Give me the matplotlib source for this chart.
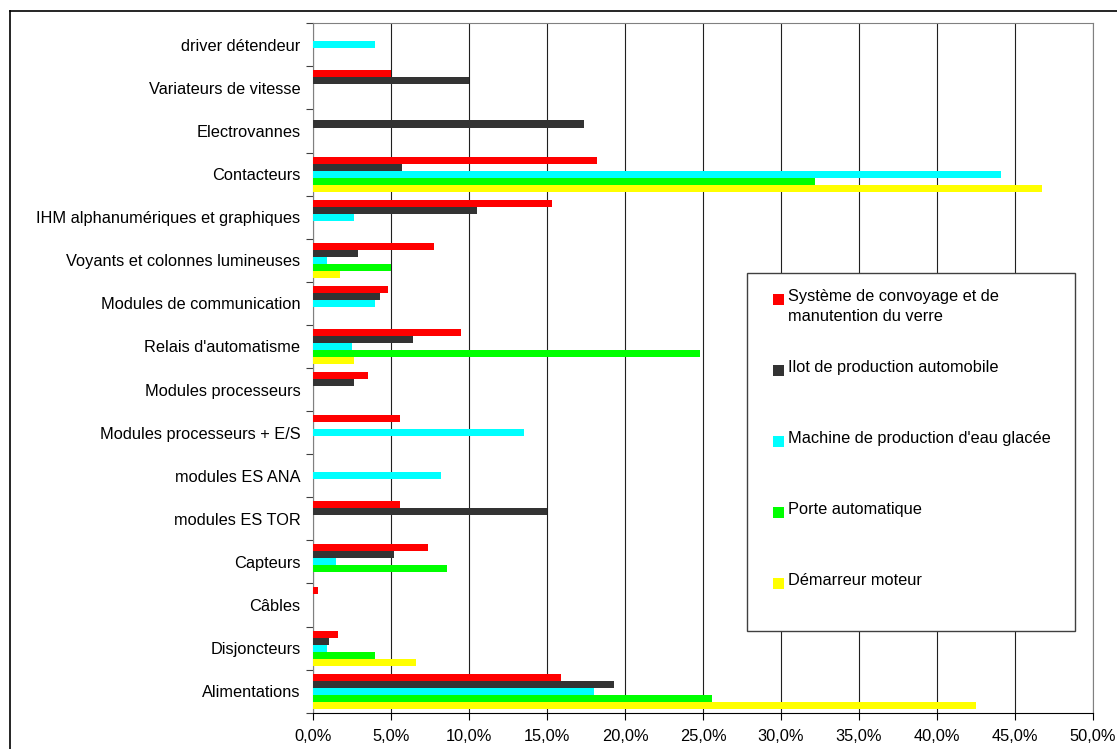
import matplotlib
matplotlib.use('Agg')
from matplotlib import pyplot as plt
from matplotlib.patches import Rectangle
from matplotlib.lines import Line2D
import numpy as np

plt.rcParams['font.family'] = ['Liberation Sans', 'DejaVu Sans']

# catégories, du haut vers le bas
categories = ['driver détendeur', 'Variateurs de vitesse', 'Electrovannes', 'Contacteurs',
              'IHM alphanumériques et graphiques', 'Voyants et colonnes lumineuses',
              'Modules de communication', "Relais d'automatisme", 'Modules processeurs',
              'Modules processeurs + E/S', 'modules ES ANA', 'modules ES TOR',
              'Capteurs', 'Câbles', 'Disjoncteurs', 'Alimentations']

series_names = ['Système de convoyage et de\nmanutention du verre',
                'Ilot de production automobile',
                "Machine de production d'eau glacée",
                'Porte automatique',
                'Démarreur moteur']
colors = ['#FF0000', '#333333', '#00FFFF', '#00FF00', '#FFFF00']

# valeurs en %
convoyage = [0, 5.0, 0, 18.2, 15.3, 7.75, 4.8, 9.5, 3.5, 5.6, 0, 5.6, 7.4, 0.3, 1.6, 15.9]
ilot = [0, 10.0, 17.4, 5.7, 10.5, 2.9, 4.3, 6.4, 2.6, 0, 0, 15.0, 5.2, 0, 1.0, 19.3]
eau_glacee = [4.0, 0, 0, 44.1, 2.6, 0.9, 4.0, 2.5, 0, 13.5, 8.2, 0, 1.5, 0, 0.9, 18.0]
porte = [0, 0, 0, 32.2, 0, 5.0, 0, 24.8, 0, 0, 0, 0, 8.6, 0, 4.0, 25.6]
demarreur = [0, 0, 0, 46.7, 0, 1.7, 0, 2.6, 0, 0, 0, 0, 0, 0, 6.6, 42.5]

series = [convoyage, ilot, eau_glacee, porte, demarreur]

W, H = 1117, 749
fig = plt.figure(figsize=(W / 100, H / 100), dpi=100)
ax = fig.add_axes([313 / W, 1 - 712.7 / H, (1093 - 313) / W, (712.7 - 23.3) / H])

y = np.arange(len(categories))
h = 0.163
for k, (vals, c) in enumerate(zip(series, colors)):
    ax.barh(y + (k - 2) * h, vals, height=h, color=c, zorder=3)

ax.set_xlim(0, 50)
ax.set_ylim(len(categories) - 0.5, -0.5)

# graduations en bordure des catégories (style Excel)
ax.set_yticks(np.arange(len(categories) + 1) - 0.5)
ax.set_yticklabels([])
ax.set_yticks(y, minor=True)
ax.set_yticklabels(categories, minor=True, fontsize=11.8)
ax.tick_params(axis='y', which='minor', length=0, pad=9)
ax.tick_params(axis='y', which='major', length=5, color='#404040')

xt = np.arange(0, 51, 5)
ax.set_xticks(xt)
ax.set_xticklabels([('%.1f%%' % v).replace('.', ',') for v in xt], fontsize=11.8)
ax.tick_params(axis='x', length=5, pad=7)
ax.grid(axis='x', color='#202020', lw=0.8, zorder=1)

for s in ['top', 'right', 'left']:
    ax.spines[s].set_color('#808080')
ax.spines['bottom'].set_color('black')

# légende (boîte façon Excel, entrées sur une grille régulière)
px = lambda xp, yp: (xp / W, 1 - yp / H)
box_l, box_t, box_r, box_b = 747, 272.7, 1075, 630.7
fig.add_artist(Rectangle(px(box_l, box_b), (box_r - box_l) / W, (box_b - box_t) / H,
                         transform=fig.transFigure, facecolor='white',
                         edgecolor='#404040', lw=1.0, zorder=5))
for k, (name, c) in enumerate(zip(series_names, colors)):
    yc = 297.7 + 71 * k
    fig.add_artist(Rectangle(px(773, yc + 7), 11 / W, 11 / H, transform=fig.transFigure,
                             facecolor=c, edgecolor='none', zorder=6))
    fig.text(788 / W, 1 - (yc - 9) / H, name, fontsize=11.8, va='top', ha='left',
             linespacing=1.42, zorder=6)

# cadre extérieur du graphique
fig.add_artist(Line2D([10 / W, 1], [1 - 11 / H, 1 - 11 / H], color='black', lw=1.2,
                      transform=fig.transFigure))
fig.add_artist(Line2D([10 / W, 10 / W], [0, 1 - 11 / H], color='black', lw=1.2,
                      transform=fig.transFigure))

fig.savefig('out.png', dpi=100)
